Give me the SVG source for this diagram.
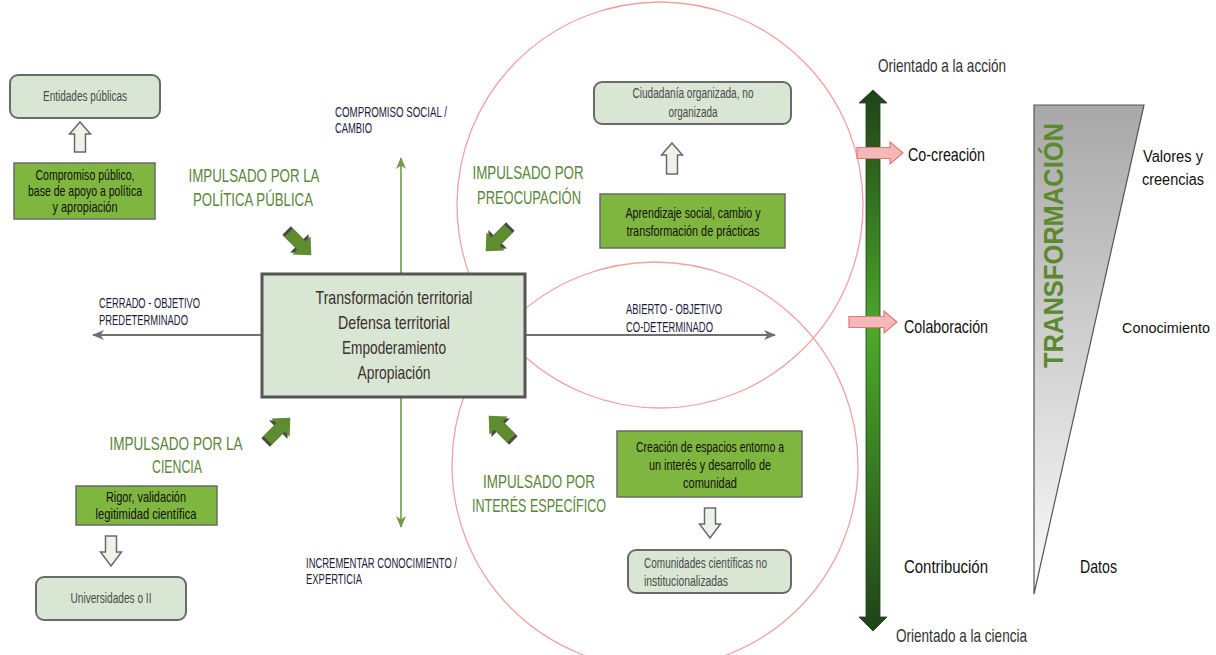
<svg xmlns="http://www.w3.org/2000/svg" width="1216" height="655" viewBox="0 0 1216 655">
<style>
text{font-family:"Liberation Sans Narrow","Liberation Sans",Arial,sans-serif;}
.lb{fill:#d9e6d3;stroke:#6a6a6a;stroke-width:2;}
.gb{fill:#7fb63f;stroke:#6a6a6a;stroke-width:1.5;}
.ha{fill:#eef3ea;stroke:#6a6a6a;stroke-width:1.5;}
.n{font-size:14px;fill:#4a4a4a;text-anchor:middle;}
.nl{font-size:14px;fill:#4a4a4a;}
.g{font-size:14.5px;fill:#111;text-anchor:middle;}
.big{font-size:19px;fill:#5b8539;text-anchor:middle;}
.cap{font-size:15px;fill:#1c1c3a;}
.ctr{font-size:19px;fill:#3a3030;text-anchor:middle;}
.side{font-size:18.5px;fill:#111;}
.sider{font-size:16px;fill:#111;text-anchor:end;}
.ori{font-size:19px;fill:#333;}
.circ{fill:none;stroke:#f0a2a2;stroke-width:1.3;}
.pink{fill:#f4b8b8;stroke:#e07b7b;stroke-width:1.2;}
</style>
<defs>
<marker id="ag" viewBox="0 0 12 10" refX="11" refY="5" markerWidth="12" markerHeight="10" markerUnits="userSpaceOnUse" orient="auto">
<path d="M0,0 L12,5 L0,10 L3.5,5 Z" fill="#707070"/>
</marker>
<marker id="agr" viewBox="0 0 12 10" refX="11" refY="5" markerWidth="12" markerHeight="10" markerUnits="userSpaceOnUse" orient="auto">
<path d="M0,0 L12,5 L0,10 L3.5,5 Z" fill="#6f9a46"/>
</marker>
<linearGradient id="vg" x1="0" y1="0" x2="0" y2="1">
<stop offset="0" stop-color="#1f4318"/>
<stop offset="0.45" stop-color="#4ea82b"/>
<stop offset="1" stop-color="#1f4318"/>
</linearGradient>
<linearGradient id="tg" x1="0" y1="0" x2="0" y2="1">
<stop offset="0" stop-color="#a8a8a8"/>
<stop offset="1" stop-color="#fafafa"/>
</linearGradient>
<g id="blk">
<path d="M-19,-6 H-1 V-13 L13,0 L-1,13 V6 H-19 Z" fill="#4a4a4a"/>
<path d="M-16,-6 H2 V-13 L16,0 L2,13 V6 H-16 Z" fill="#5e8c2f"/>
</g>
</defs>
<rect width="1216" height="655" fill="#ffffff"/>

<g id="circles">
<circle class="circ" cx="660" cy="205" r="203"/>
<circle class="circ" cx="655" cy="465" r="203"/>
</g>

<g id="connectors">
<line x1="262" y1="335" x2="93" y2="335" stroke="#707070" stroke-width="2" marker-end="url(#ag)"/>
<line x1="525" y1="335" x2="775" y2="335" stroke="#707070" stroke-width="2" marker-end="url(#ag)"/>
<line x1="401" y1="274" x2="401" y2="158" stroke="#6f9a46" stroke-width="1.6" marker-end="url(#agr)"/>
<line x1="401" y1="397" x2="401" y2="527" stroke="#6f9a46" stroke-width="1.6" marker-end="url(#agr)"/>
<use href="#blk" transform="translate(300,244) rotate(45)"/>
<use href="#blk" transform="translate(497,240) rotate(135)"/>
<use href="#blk" transform="translate(279,429) rotate(-45)"/>
<use href="#blk" transform="translate(500,427) rotate(-135)"/>
<path class="ha" d="M80,122 L90.5,134 L85.5,134 L85.5,152 L74.5,152 L74.5,134 L69.5,134 Z"/>
<path class="ha" d="M672,143 L682.5,155 L677.5,155 L677.5,174 L666.5,174 L666.5,155 L661.5,155 Z"/>
<path class="ha" d="M111,566 L121.5,552 L116.5,552 L116.5,536 L105.5,536 L105.5,552 L100.5,552 Z"/>
<path class="ha" d="M710,538 L720.5,524 L715.5,524 L715.5,508 L704.5,508 L704.5,524 L699.5,524 Z"/>
</g>

<g id="center">
<rect x="262" y="274" width="263" height="123" fill="#d9e6d3" stroke="#555" stroke-width="3"/>
<text class="ctr" x="394" y="304" textLength="157" lengthAdjust="spacingAndGlyphs">Transformación territorial</text>
<text class="ctr" x="394" y="329" textLength="112" lengthAdjust="spacingAndGlyphs">Defensa territorial</text>
<text class="ctr" x="394" y="354" textLength="104" lengthAdjust="spacingAndGlyphs">Empoderamiento</text>
<text class="ctr" x="394" y="379" textLength="73" lengthAdjust="spacingAndGlyphs">Apropiación</text>
</g>

<g id="entidades">
<rect class="lb" x="10" y="75" width="150" height="43" rx="8"/>
<text class="n" x="85" y="101" textLength="84" lengthAdjust="spacingAndGlyphs">Entidades públicas</text>
</g>
<g id="compromiso-publico">
<rect class="gb" x="14" y="163" width="141" height="56"/>
<text class="g" x="85" y="180" textLength="99" lengthAdjust="spacingAndGlyphs">Compromiso público,</text>
<text class="g" x="85" y="196" textLength="114" lengthAdjust="spacingAndGlyphs">base de apoyo a política</text>
<text class="g" x="85" y="212" textLength="65" lengthAdjust="spacingAndGlyphs">y apropiación</text>
</g>
<g id="rigor">
<rect class="gb" x="76" y="486" width="141" height="39"/>
<text class="g" x="146" y="502" textLength="80" lengthAdjust="spacingAndGlyphs">Rigor, validación</text>
<text class="g" x="146" y="519" textLength="101" lengthAdjust="spacingAndGlyphs">legitimidad científica</text>
</g>
<g id="universidades">
<rect class="lb" x="36" y="577" width="150" height="43" rx="8"/>
<text class="n" x="111" y="603" textLength="81" lengthAdjust="spacingAndGlyphs">Universidades o II</text>
</g>
<g id="ciudadania">
<rect class="lb" x="594" y="82" width="197" height="42" rx="8"/>
<text class="n" x="693" y="98" textLength="121" lengthAdjust="spacingAndGlyphs">Ciudadanía organizada,  no</text>
<text class="n" x="693" y="117" textLength="49" lengthAdjust="spacingAndGlyphs">organizada</text>
</g>
<g id="aprendizaje">
<rect class="gb" x="600" y="194" width="185" height="54"/>
<text class="g" x="693" y="218" textLength="135" lengthAdjust="spacingAndGlyphs">Aprendizaje social, cambio y</text>
<text class="g" x="693" y="236" textLength="133" lengthAdjust="spacingAndGlyphs">transformación de prácticas</text>
</g>
<g id="creacion">
<rect class="gb" x="617" y="431" width="185" height="66"/>
<text class="g" x="710" y="452" textLength="148" lengthAdjust="spacingAndGlyphs">Creación de espacios entorno a</text>
<text class="g" x="710" y="470" textLength="122" lengthAdjust="spacingAndGlyphs">un interés y desarrollo de</text>
<text class="g" x="710" y="488" textLength="54" lengthAdjust="spacingAndGlyphs">comunidad</text>
</g>
<g id="comunidades">
<rect class="lb" x="628" y="550" width="163" height="43" rx="8"/>
<text class="nl" x="644" y="568" textLength="123" lengthAdjust="spacingAndGlyphs">Comunidades científicas no</text>
<text class="nl" x="644" y="586" textLength="84" lengthAdjust="spacingAndGlyphs">institucionalizadas</text>
</g>

<g id="labels">
<text class="big" x="254" y="182" textLength="131" lengthAdjust="spacingAndGlyphs">IMPULSADO POR LA</text>
<text class="big" x="253" y="206" textLength="120" lengthAdjust="spacingAndGlyphs">POLÍTICA PÚBLICA</text>
<text class="big" x="528" y="179" textLength="111" lengthAdjust="spacingAndGlyphs">IMPULSADO POR</text>
<text class="big" x="529" y="204" textLength="104" lengthAdjust="spacingAndGlyphs">PREOCUPACIÓN</text>
<text class="big" x="176" y="450" textLength="133" lengthAdjust="spacingAndGlyphs">IMPULSADO POR LA</text>
<text class="big" x="177" y="473" textLength="50" lengthAdjust="spacingAndGlyphs">CIENCIA</text>
<text class="big" x="539" y="488" textLength="112" lengthAdjust="spacingAndGlyphs">IMPULSADO POR</text>
<text class="big" x="539" y="512" textLength="134" lengthAdjust="spacingAndGlyphs">INTERÉS ESPECÍFICO</text>
<text class="cap" x="335" y="117" textLength="112" lengthAdjust="spacingAndGlyphs">COMPROMISO SOCIAL /</text>
<text class="cap" x="335" y="133" textLength="37" lengthAdjust="spacingAndGlyphs">CAMBIO</text>
<text class="cap" x="99" y="308" textLength="101" lengthAdjust="spacingAndGlyphs">CERRADO - OBJETIVO</text>
<text class="cap" x="99" y="325" textLength="89" lengthAdjust="spacingAndGlyphs">PREDETERMINADO</text>
<text class="cap" x="626" y="314" textLength="96" lengthAdjust="spacingAndGlyphs">ABIERTO - OBJETIVO</text>
<text class="cap" x="626" y="332" textLength="87" lengthAdjust="spacingAndGlyphs">CO-DETERMINADO</text>
<text class="cap" x="306" y="568" textLength="151" lengthAdjust="spacingAndGlyphs">INCREMENTAR CONOCIMIENTO /</text>
<text class="cap" x="306" y="584" textLength="56" lengthAdjust="spacingAndGlyphs">EXPERTICIA</text>
</g>

<g id="axis">
<path d="M873,90 L887,103 L880,103 L880,617 L887,617 L873,631 L859,617 L866,617 L866,103 L859,103 Z" fill="url(#vg)" stroke="#1f3f18" stroke-width="0.8"/>
<path class="pink" d="M857,147.5 H890 V142 L903,153 L890,164 V158.5 H857 Z"/>
<path class="pink" d="M849,316.5 H884 V311 L897,322 L884,333 V327.5 H849 Z"/>
<text class="ori" x="878" y="72" textLength="128" lengthAdjust="spacingAndGlyphs">Orientado a la acción</text>
<text class="ori" x="896" y="642" textLength="131" lengthAdjust="spacingAndGlyphs">Orientado a la ciencia</text>
<text class="side" x="908" y="161" textLength="77" lengthAdjust="spacingAndGlyphs">Co-creación</text>
<text class="side" x="904" y="333" textLength="84" lengthAdjust="spacingAndGlyphs">Colaboración</text>
<text class="side" x="904" y="573" textLength="84" lengthAdjust="spacingAndGlyphs">Contribución</text>
</g>

<g id="transformacion">
<path d="M1034,105 L1144,105 L1034,594 Z" fill="url(#tg)" stroke="#555" stroke-width="1.2"/>
<text x="1063" y="368" transform="rotate(-90 1063 368)" textLength="245" lengthAdjust="spacingAndGlyphs" style="font-family:'Liberation Sans',Arial,sans-serif;font-weight:bold;font-size:28px;fill:#5b8a2d;">TRANSFORMACIÓN</text>
<text class="sider" x="1203" y="162" textLength="60" lengthAdjust="spacingAndGlyphs">Valores y</text>
<text class="sider" x="1204" y="185" textLength="62" lengthAdjust="spacingAndGlyphs">creencias</text>
<text class="sider" x="1210" y="333" textLength="88" lengthAdjust="spacingAndGlyphs" style="font-size:15px">Conocimiento</text>
<text class="side" x="1080" y="573" textLength="37" lengthAdjust="spacingAndGlyphs">Datos</text>
</g>
</svg>
